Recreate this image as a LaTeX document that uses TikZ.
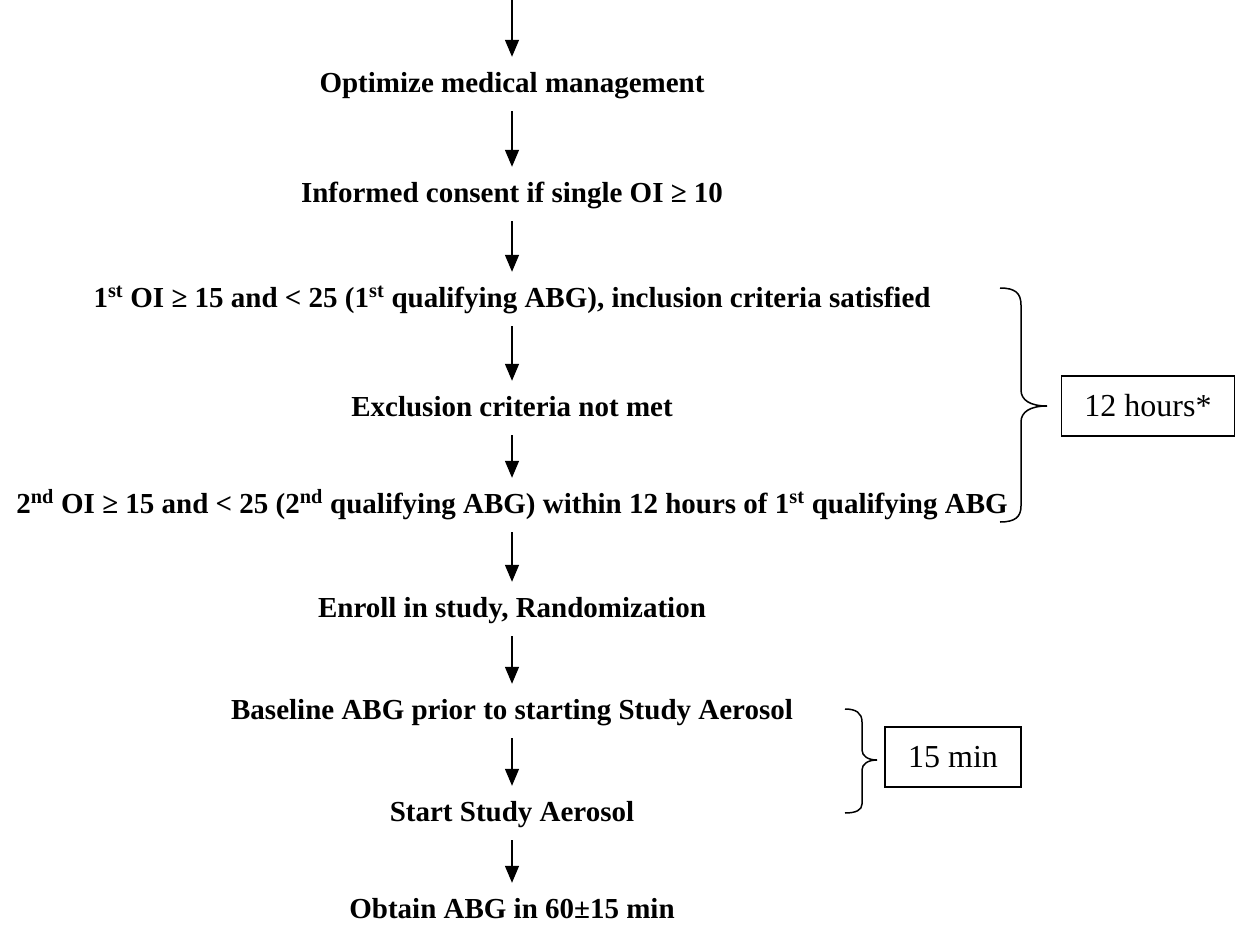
\documentclass[tikz,border=0pt]{standalone}
\usepackage{fontspec}
\setmainfont{Liberation Serif}
\usetikzlibrary{arrows.meta}
\begin{document}
\begin{tikzpicture}[
    x=1pt, y=-1pt,
    stage/.style={font=\bfseries\fontsize{29}{34}\selectfont, anchor=base, inner sep=0pt, text height=20pt, text depth=6pt},
    arr/.style={-{Triangle[length=17pt,width=14pt]}, line width=1.4pt, shorten <=13pt, shorten >=15pt},
    bracel/.style={line width=1.5pt},
    note/.style={draw, line width=1.4pt, minimum height=60pt, inner xsep=23pt, inner ysep=0pt, font=\fontsize{32}{38}\selectfont}
  ]
  \useasboundingbox (0,0) rectangle (1235,926);
  \coordinate (top) at (512,0);
  \foreach \n/\y/\t in {
      s1/92/{Optimize medical management},
      s2/202/{Informed consent if single OI ≥ 10},
      s3/307/{1\textsuperscript{st} OI ≥ 15 and < 25 (1\textsuperscript{st} qualifying ABG), inclusion criteria satisfied},
      s4/416/{Exclusion criteria not met},
      s5/513/{2\textsuperscript{nd} OI ≥ 15 and < 25 (2\textsuperscript{nd} qualifying ABG) within 12 hours of 1\textsuperscript{st} qualifying ABG},
      s6/617/{Enroll in study, Randomization},
      s7/719/{Baseline ABG prior to starting Study Aerosol},
      s8/821/{Start Study Aerosol},
      s9/918/{Obtain ABG in 60±15 min}} {
    \node[stage] (\n) at (512,\y) {\t};
  }
  \draw[arr, shorten <=0pt] (top) -- (s1.north);
  \foreach \a/\b in {s1/s2, s2/s3, s3/s4, s4/s5, s5/s6, s6/s7, s7/s8, s8/s9} {
    \draw[arr] (\a.south) -- (\b.north);
  }
  \draw[bracel] (1000,288) .. controls (1015,288) and (1021,293) .. (1021,305) -- (1021,390)
    .. controls (1021,400) and (1030,406) .. (1047,406)
    .. controls (1030,406) and (1021,412) .. (1021,422) -- (1021,506)
    .. controls (1021,517) and (1015,522) .. (1000,522);
  \draw[bracel] (845,709) .. controls (856,709) and (862,713) .. (862,722) -- (862,750)
    .. controls (862,756) and (868,760) .. (877,760)
    .. controls (868,760) and (862,764) .. (862,770) -- (862,804)
    .. controls (862,810) and (856,813) .. (845,813);
  \node[note] (hours) at (1148,406) {12 hours*};
  \node[note] (mins) at (953,757) {15 min};
\end{tikzpicture}
\end{document}
